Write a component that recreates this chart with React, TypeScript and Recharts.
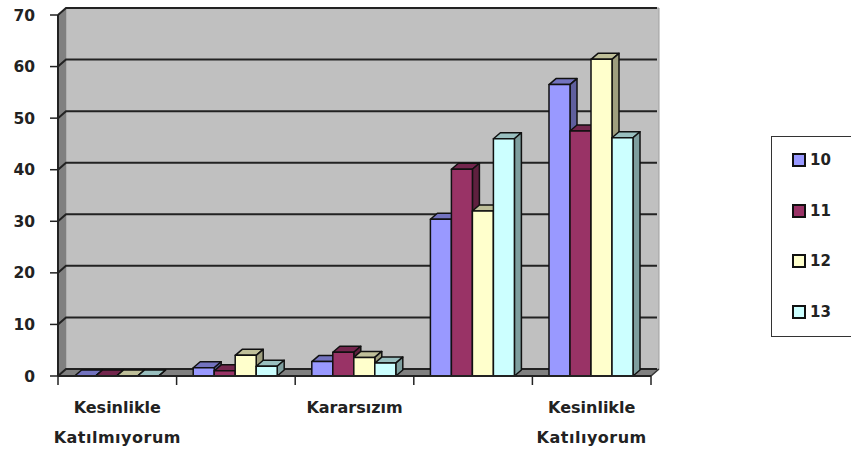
import { BarChart, Bar, XAxis, YAxis, CartesianGrid, Legend, ReferenceArea } from "recharts";

const categories = ["Kesinlikle Katılmıyorum", "Katılmıyorum", "Kararsızım", "Katılıyorum", "Kesinlikle Katılıyorum"];
// only these lines are printed under the axis, the other two categories stay blank
const tickLines = [["Kesinlikle", "Katılmıyorum"], [], ["Kararsızım"], [], ["Kesinlikle", "Katılıyorum"]];
const yTicks = [0, 10, 20, 30, 40, 50, 60, 70];

const series10 = [0, 1.6, 2.8, 30.4, 56.5];
const series11 = [0, 1, 4.6, 40.1, 47.5];
const series12 = [0, 4, 3.6, 32, 61.4];
const series13 = [0, 1.9, 2.5, 46, 46.2];

const rows = categories.map((name, i) => ({
  name,
  s10: series10[i],
  s11: series11[i],
  s12: series12[i],
  s13: series13[i],
}));

const W = 851;
const H = 452;
const LEFT = 58;
const RIGHT = 651;
const TOP = 15;
const BOTTOM = 376;
const LEGEND_W = 90;
const BAND = (RIGHT - LEFT) / categories.length;
// depth of the fake 3D box
const DX = 8;
const DY = 7;
const FONT = "'DejaVu Sans', sans-serif";

const shade = (hex: string, k: number) => {
  const n = parseInt(hex.slice(1), 16);
  const c = (v: number) => Math.round(v * k);
  return `rgb(${c((n >> 16) & 255)},${c((n >> 8) & 255)},${c(n & 255)})`;
};

// front face plus top and side faces
function Box3D(props: any) {
  const { x, y, width, height, fill } = props;
  if (height === undefined || width === undefined) return null;
  const dx = 7;
  const dy = 6;
  const r = x + width;
  const b = y + height;
  const edge = { stroke: "#111", strokeWidth: 1.5, strokeLinejoin: "round" as const };
  return (
    <g>
      <polygon points={`${x},${y} ${x + dx},${y - dy} ${r + dx},${y - dy} ${r},${y}`} fill={shade(fill, 0.75)} {...edge} />
      <polygon points={`${r},${y} ${r + dx},${y - dy} ${r + dx},${b - dy} ${r},${b}`} fill={shade(fill, 0.62)} {...edge} />
      <rect x={x} y={y} width={width} height={height} fill={fill} {...edge} />
    </g>
  );
}

// back wall, left wall and floor
function Walls(props: any) {
  const { x, y, width, height } = props;
  const r = x + width;
  const b = y + height;
  return (
    <g>
      <polygon points={`${x + DX},${y - DY} ${r + DX},${y - DY} ${r + DX},${b - DY} ${x + DX},${b - DY}`} fill="#c0c0c0" stroke="#a0a0a0" />
      <polygon points={`${x},${b} ${x + DX},${b - DY} ${x + DX},${y - DY} ${x},${y}`} fill="#808080" />
      <polygon points={`${x},${b} ${x + DX},${b - DY} ${r + DX},${b - DY} ${r},${b}`} fill="#808080" />
      <line x1={r} y1={b} x2={r + DX} y2={b - DY} stroke="#333" strokeWidth={1.5} />
    </g>
  );
}

function GridLine(props: any) {
  const { x1, x2, y1 } = props;
  return (
    <polyline
      points={`${x1},${y1} ${x1 + DX},${y1 - DY} ${x2 + DX - 2},${y1 - DY}`}
      fill="none"
      stroke="#222"
      strokeWidth={2}
    />
  );
}

function CategoryTick(props: any) {
  const { x, y, index } = props;
  const lines = tickLines[index] ?? [];
  const tick = (tx: number) => <line x1={tx} x2={tx} y1={y} y2={y + 9} stroke="#222" strokeWidth={1.5} />;
  return (
    <g>
      {tick(x - BAND / 2)}
      {index === categories.length - 1 && tick(x + BAND / 2)}
      {lines.map((line: string, i: number) => (
        <text
          key={line}
          x={x}
          y={y + 37 + i * 30}
          textAnchor="middle"
          fontFamily={FONT}
          fontWeight={700}
          fontSize={16}
          letterSpacing={i === 1 ? 0.5 : 0}
          fill="#222"
        >
          {line}
        </text>
      ))}
    </g>
  );
}

function LegendBox({ payload }: any) {
  return (
    <div style={{ width: LEGEND_W, height: 201, border: "1.5px solid #333", boxSizing: "border-box", fontFamily: FONT, fontWeight: 700, fontSize: 15, color: "#222" }}>
      {(payload ?? []).map((p: any, i: number) => (
        <div key={p.value} style={{ position: "absolute", left: 21, top: 15 + i * 50.6, display: "flex", alignItems: "center", height: 18 }}>
          <span style={{ width: 10, height: 10, background: p.color, border: "2px solid #111", marginRight: 4, display: "inline-block" }} />
          {p.value}
        </div>
      ))}
    </div>
  );
}

export default function App() {
  return (
    <div style={{ position: "absolute", left: 0, top: 0, width: W, height: H, overflow: "hidden", background: "#fff" }}>
      <BarChart
        width={W}
        height={H}
        data={rows}
        barCategoryGap="14%"
        barGap={0}
        margin={{ top: TOP, right: W - RIGHT - LEGEND_W, bottom: 0, left: 0 }}
      >
        <ReferenceArea y1={0} y2={70} shape={<Walls />} fill="none" stroke="none" zIndex={-200} />
        <CartesianGrid vertical={false} horizontal={(p: any) => <GridLine {...p} />} />
        <XAxis
          dataKey="name"
          height={H - BOTTOM}
          interval={0}
          tickLine={false}
          tickSize={0}
          tickMargin={0}
          axisLine={{ stroke: "#222", strokeWidth: 2 }}
          tick={<CategoryTick />}
        />
        <YAxis
          width={LEFT}
          domain={[0, 70]}
          ticks={yTicks}
          tickSize={8}
          tickMargin={15}
          axisLine={{ stroke: "#222", strokeWidth: 2 }}
          tickLine={{ stroke: "#222", strokeWidth: 1.5 }}
          tick={{ fontFamily: FONT, fontWeight: 700, fontSize: 15.5, fill: "#222" }}
        />
        <Legend content={<LegendBox />} layout="vertical" align="right" verticalAlign="middle" wrapperStyle={{ position: "absolute", left: 771, right: "auto", top: 136, width: LEGEND_W, height: 201 }} />
        <Bar dataKey="s10" name="10" fill="#9999ff" shape={<Box3D />} isAnimationActive={false} />
        <Bar dataKey="s11" name="11" fill="#993366" shape={<Box3D />} isAnimationActive={false} />
        <Bar dataKey="s12" name="12" fill="#ffffcc" shape={<Box3D />} isAnimationActive={false} />
        <Bar dataKey="s13" name="13" fill="#ccffff" shape={<Box3D />} isAnimationActive={false} />
      </BarChart>
    </div>
  );
}
